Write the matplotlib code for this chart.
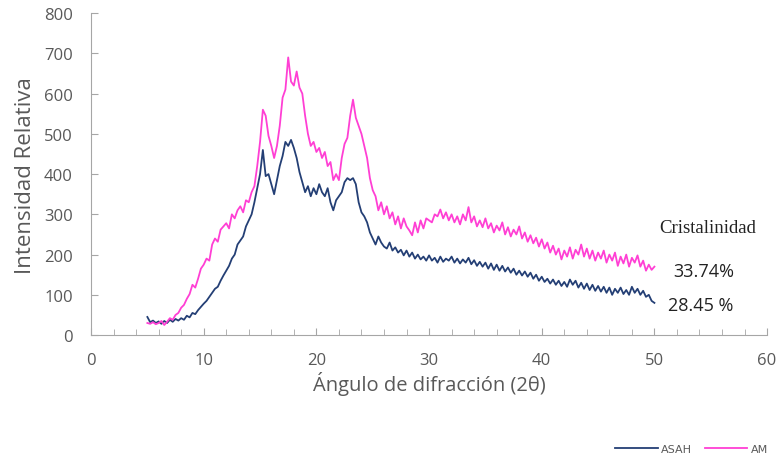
import numpy as np
import matplotlib.pyplot as plt
from matplotlib.ticker import MultipleLocator

# 2-theta grid (degrees) and intensities
two_theta = np.arange(5, 50.01, 0.25)

am = [30, 28, 32, 27, 30, 35, 25, 33, 42, 38, 50, 55, 68, 75, 90, 102,
      125, 118, 140, 165, 175, 190, 185, 225, 240, 232, 262, 270, 278, 265, 300, 290,
      310, 320, 305, 335, 330, 355, 370, 420, 480, 560, 545, 495, 470, 440, 470, 520,
      590, 610, 690, 630, 620, 655, 615, 600, 545, 500, 470, 480, 455, 465, 440, 455,
      420, 430, 385, 400, 385, 440, 475, 490, 545, 585, 540, 520, 500, 470, 440, 390,
      360, 345, 310, 330, 300, 320, 290, 305, 275, 295, 265, 290, 270, 260, 248, 280,
      255, 285, 265, 290, 285, 280, 300, 295, 312, 290, 305, 285, 300, 280, 295, 275,
      300, 285, 318, 280, 295, 270, 285, 268, 290, 265, 278, 255, 272, 260, 280, 250,
      268, 245, 262, 250, 270, 240, 255, 232, 248, 228, 242, 220, 238, 215, 230, 205,
      222, 200, 215, 188, 210, 195, 218, 190, 212, 200, 225, 195, 215, 190, 210, 185,
      205, 190, 210, 180, 200, 185, 205, 172, 195, 178, 200, 170, 192, 180, 198, 170,
      185, 160, 175, 162, 170]

asah = [45, 32, 36, 30, 34, 28, 35, 30, 38, 33, 40, 36, 42, 38, 48, 44,
        55, 52, 62, 70, 78, 85, 95, 105, 115, 120, 135, 148, 160, 172, 190, 200,
        225, 235, 245, 270, 285, 300, 330, 365, 400, 460, 395, 400, 375, 350, 385, 420,
        445, 480, 470, 485, 465, 440, 405, 380, 355, 370, 345, 365, 350, 375, 355, 345,
        365, 330, 310, 335, 345, 355, 380, 390, 385, 390, 375, 330, 305, 295, 280, 255,
        240, 225, 245, 230, 220, 215, 230, 210, 218, 205, 212, 198, 210, 195, 205, 190,
        200, 188, 195, 185, 198, 185, 192, 180, 195, 182, 190, 185, 195, 180, 190, 178,
        188, 180, 192, 176, 186, 172, 182, 170, 180, 165, 178, 162, 175, 160, 172, 158,
        168, 155, 165, 150, 160, 148, 158, 145, 155, 140, 150, 135, 145, 132, 140, 128,
        138, 125, 135, 122, 132, 120, 138, 125, 135, 118, 130, 115, 128, 112, 125, 110,
        122, 108, 120, 105, 118, 100, 115, 105, 118, 102, 112, 100, 120, 105, 115, 100,
        110, 95, 100, 85, 80]

series_names = ['ASAH', 'AM']
crystallinity = ['33.74%', '28.45 %']

gray = '#595959'
fig = plt.figure(figsize=(7.78, 4.56), dpi=100)
ax = fig.add_axes([0.117, 0.263, 0.869, 0.706])

ax.plot(two_theta, asah, color='#243F75', linewidth=1.3, label=series_names[0])
ax.plot(two_theta, am, color='#FF3FD4', linewidth=1.3, label=series_names[1])

ax.set_xlim(0, 60)
ax.set_ylim(0, 800)
ax.xaxis.set_major_locator(MultipleLocator(10))
ax.xaxis.set_minor_locator(MultipleLocator(2))
ax.yaxis.set_major_locator(MultipleLocator(100))

for s in ['top', 'right']:
    ax.spines[s].set_visible(False)
for s in ['left', 'bottom']:
    ax.spines[s].set_color('#A6A6A6')
ax.tick_params(axis='both', which='both', direction='in', color='#A6A6A6',
               labelcolor=gray, labelsize=12)
ax.tick_params(axis='x', which='major', length=5, pad=12)
ax.tick_params(axis='x', which='minor', length=4)
ax.tick_params(axis='y', length=5, pad=13)
for lbl in ax.get_xticklabels() + ax.get_yticklabels():
    lbl.set_family('Open Sans')

ax.set_ylabel('Intensidad Relativa', fontsize=16, color=gray, family='Open Sans', labelpad=6)
ax.set_xlabel('Ángulo de difracción (2θ)', fontsize=14.5, color=gray, family='Open Sans', labelpad=2)

fig.text(0.848, 0.498, 'Cristalinidad', fontsize=13.5, va='center',
         family='Liberation Serif', color='#222222')
fig.text(0.865, 0.404, crystallinity[0], fontsize=13, va='center',
         family='Open Sans', color='#222222')
fig.text(0.858, 0.329, crystallinity[1], fontsize=13, va='center',
         family='Open Sans', color='#222222')

fig.legend(loc='lower right', bbox_to_anchor=(1.0, -0.02), ncol=2, frameon=False,
           fontsize=8, handlelength=3.8, columnspacing=1.2, handletextpad=0.3,
           labelcolor=gray)

fig.savefig('out.png', dpi=100)
